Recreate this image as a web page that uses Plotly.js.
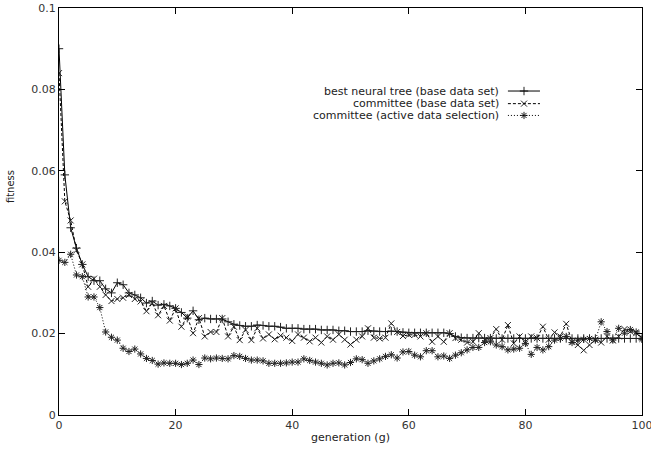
<!DOCTYPE html>
<html>
<head>
<meta charset="utf-8">
<script src="https://cdn.plot.ly/plotly-3.0.1.min.js"></script>
<style>html,body{margin:0;padding:0;background:#fff;}#chart{width:651px;height:450px;}</style>
</head>
<body>
<div id="chart"></div>
<script>
var generations = [];
for (var i = 0; i <= 100; i++) generations.push(i);

var seriesNames = ["best neural tree (base data set)", "committee (base data set)", "committee (active data selection)"];

var bestTree = [0.090,0.059,0.046,0.041,0.037,0.034,0.033,0.033,0.031,0.030,
0.0325,0.032,0.030,0.0295,0.0288,0.0275,0.028,0.027,0.0272,0.0268,
0.0262,0.0252,0.0238,0.0256,0.0234,0.0238,0.0236,0.0236,0.0236,0.0229,
0.0223,0.0220,0.0218,0.0218,0.0221,0.0220,0.0218,0.0218,0.0216,0.0213,
0.0213,0.0213,0.0211,0.0211,0.0211,0.0209,0.0209,0.0209,0.0207,0.0207,
0.0205,0.0205,0.0205,0.0207,0.0206,0.0205,0.0205,0.0206,0.0205,0.0203,
0.0202,0.0202,0.0202,0.0202,0.0202,0.0202,0.0202,0.0200,0.0193,0.0190,
0.0189,0.0189,0.0189,0.0189,0.0189,0.0188,0.0188,0.0188,0.0188,0.0188,
0.0188,0.0188,0.0188,0.0188,0.0188,0.0188,0.0188,0.0188,0.0188,0.0188,
0.0188,0.0188,0.0188,0.0188,0.0188,0.0188,0.0188,0.0188,0.0188,0.0188,0.0188];

var committeeBase = [0.084,0.0525,0.0478,0.0405,0.037,0.0315,0.0335,0.0315,0.0295,0.028,
0.0285,0.0288,0.0295,0.0285,0.0279,0.0255,0.0275,0.0245,0.0268,0.0232,
0.0262,0.0217,0.0242,0.0201,0.0238,0.0193,0.0204,0.0204,0.0238,0.0193,
0.0217,0.0184,0.0209,0.0184,0.0213,0.0188,0.0198,0.0186,0.0195,0.0190,
0.0182,0.0198,0.0190,0.0181,0.0190,0.0178,0.0193,0.0185,0.0198,0.0185,
0.0173,0.0185,0.0193,0.0213,0.0190,0.0188,0.0190,0.0225,0.0204,0.0194,
0.0197,0.0197,0.0193,0.0201,0.0180,0.0193,0.0180,0.0201,0.0189,0.0185,
0.0178,0.0180,0.0201,0.0185,0.0189,0.0211,0.0185,0.0221,0.0176,0.0193,
0.0180,0.0193,0.0189,0.0217,0.0185,0.0203,0.0193,0.0224,0.0180,0.0172,
0.0159,0.0172,0.0185,0.0178,0.0193,0.0183,0.0193,0.0211,0.0205,0.0201,0.0190];

var committeeActive = [0.038,0.0375,0.0395,0.0344,0.034,0.029,0.029,0.0264,0.0204,0.0191,
0.0184,0.0164,0.0156,0.0162,0.0150,0.0139,0.0134,0.0125,0.0128,0.0127,
0.0127,0.0124,0.0127,0.0135,0.0124,0.0140,0.0138,0.0140,0.0139,0.0138,
0.0146,0.0144,0.0139,0.0135,0.0135,0.0133,0.0127,0.0127,0.0127,0.0128,
0.0130,0.0130,0.0138,0.0134,0.0130,0.0127,0.0123,0.0127,0.0128,0.0123,
0.0129,0.0138,0.0136,0.0127,0.0133,0.0138,0.0144,0.0148,0.0140,0.0155,
0.0156,0.0147,0.0143,0.0158,0.0158,0.0143,0.0145,0.0139,0.0147,0.0153,
0.0160,0.0166,0.0166,0.0178,0.0180,0.0172,0.0168,0.0160,0.0162,0.0164,
0.0176,0.0149,0.0166,0.0160,0.0168,0.0184,0.0188,0.0193,0.0178,0.0184,
0.0186,0.0188,0.0184,0.0229,0.0205,0.0184,0.0213,0.0201,0.0210,0.0204,0.0186];

var xTickVals = [0,20,40,60,80,100];
var xTickText = ["0","20","40","60","80","100"];
var yTickVals = [0,0.02,0.04,0.06,0.08,0.1];
var yTickText = ["0","0.02","0.04","0.06","0.08","0.1"];

var symbols = ["cross-thin-open","x-thin-open","asterisk-open"];
var dashes = ["solid","3px,2px","1px,2px"];
var allSeries = [bestTree, committeeBase, committeeActive];

var FONT = "DejaVu Sans, Liberation Sans, sans-serif";
var MARK = {size: 6, color: "#222", line: {color: "#333", width: 1}};
var traces = [];
for (var s = 0; s < 3; s++) {
  traces.push({
    x: generations, y: allSeries[s], type: "scatter", mode: "lines+markers",
    name: seriesNames[s], showlegend: false,
    line: {color: "#000", width: 1, dash: dashes[s]},
    marker: {symbol: symbols[s], size: MARK.size, color: MARK.color, line: MARK.line}
  });
}

// legend (gnuplot style: text left, sample right)
var legX = 0.758, legLine0 = 0.770, legLine1 = 0.825, legMark = 0.7976;
var legY = [0.796, 0.765, 0.736];
var annotations = [], shapes = [];
for (var s = 0; s < 3; s++) {
  annotations.push({xref: "paper", yref: "paper", x: legX, y: legY[s], xanchor: "right", yanchor: "middle",
    text: seriesNames[s], showarrow: false, font: {family: FONT, size: 11, color: "#222"}});
  shapes.push({type: "line", xref: "paper", yref: "paper", x0: legLine0, x1: legLine1, y0: legY[s], y1: legY[s],
    line: {color: "#000", width: 1, dash: dashes[s]}});
  traces.push({x: [legMark], y: [legY[s]], xaxis: "x2", yaxis: "y2", type: "scatter", mode: "markers",
    showlegend: false, hoverinfo: "skip",
    marker: {symbol: symbols[s], size: MARK.size, color: MARK.color, line: MARK.line}});
}
// y axis label placed like gnuplot
annotations.push({xref: "paper", yref: "paper", x: -0.084, y: 0.56, xanchor: "center", yanchor: "middle",
  textangle: -90, text: "fitness", showarrow: false, font: {family: FONT, size: 10, color: "#222"}});

var layout = {
  width: 651, height: 450,
  margin: {l: 59, r: 9, t: 8, b: 35},
  paper_bgcolor: "#fff", plot_bgcolor: "#fff",
  font: {family: FONT, size: 11, color: "#222"},
  showlegend: false,
  xaxis: {range: [0, 100], tickvals: xTickVals, ticktext: xTickText, ticks: "inside", ticklen: 6,
    tickcolor: "#000", showline: true, linecolor: "#000", linewidth: 1, mirror: "ticks",
    ticklabeloverflow: "allow",
    showgrid: false, zeroline: false, tickfont: {family: FONT, size: 11, color: "#333"},
    title: {text: "generation (g)", font: {family: FONT, size: 11, color: "#222"}, standoff: 2}},
  yaxis: {range: [0, 0.1], tickvals: yTickVals, ticktext: yTickText, ticks: "inside", ticklen: 6,
    tickcolor: "#000", showline: true, linecolor: "#000", linewidth: 1, mirror: "ticks",
    ticklabeloverflow: "allow",
    showgrid: false, zeroline: false, tickfont: {family: FONT, size: 11, color: "#333"}},
  xaxis2: {range: [0, 1], overlaying: "x", visible: false},
  yaxis2: {range: [0, 1], overlaying: "y", visible: false},
  annotations: annotations,
  shapes: shapes
};

Plotly.newPlot("chart", traces, layout, {staticPlot: true, displayModeBar: false});
</script>
</body>
</html>
